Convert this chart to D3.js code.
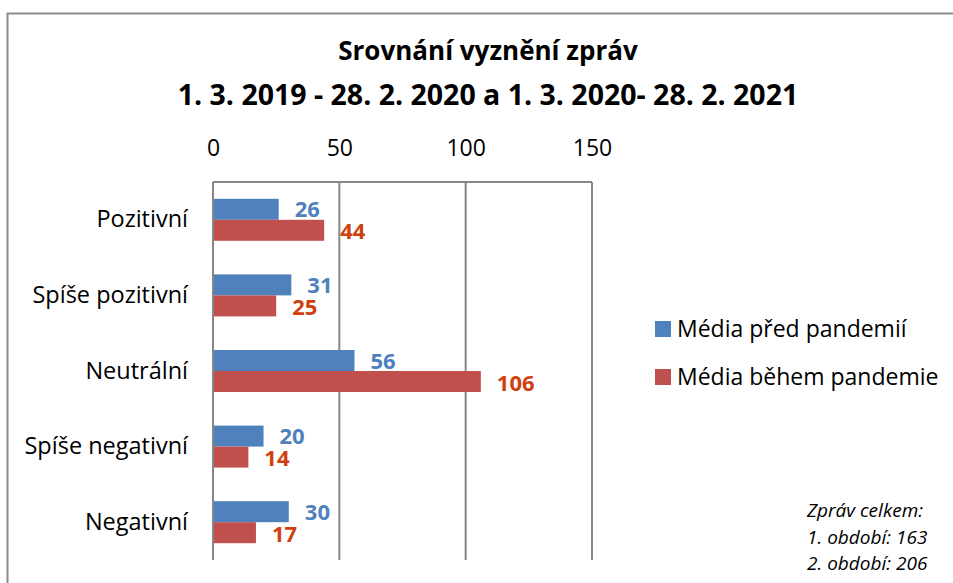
<!DOCTYPE html>
<html>
<head>
    <meta charset="utf-8">
    <title>Srovnání vyznění zpráv</title>
    <script src="https://cdnjs.cloudflare.com/ajax/libs/d3/7.8.5/d3.min.js"></script>
    <style>
    body{ margin:0; background:#fff; }
    svg text{ font-family: "Open Sans", sans-serif; }
    </style>
</head>
<body>
    <svg width="953" height="583"></svg>
    <script>
        var categories = ["Pozitivní", "Spíše pozitivní", "Neutrální", "Spíše negativní", "Negativní"];
        var seriesNames = ["Média před pandemií", "Média během pandemie"];
        var beforeValues = [26, 31, 56, 20, 30];
        var duringValues = [44, 25, 106, 14, 17];
        var xTicks = [0, 50, 100, 150];
        var titleLines = ["Srovnání vyznění zpráv", "1. 3. 2019 - 28. 2. 2020 a 1. 3. 2020- 28. 2. 2021"];
        var noteLines = ["Zpráv celkem:", "1. období: 163", "2. období: 206"];

        var barColors = ["#4f81bd", "#c0504d"];
        var labelColors = ["#4f81bd", "#d0400f"];
        var ff = '"Open Sans", sans-serif';

        var svg = d3.select("svg");

        // outer frame (only top and left visible)
        svg.append("path")
            .attr("d", "M7.5,583 V13.5 H953")
            .attr("fill", "none")
            .attr("stroke", "#8c8c8c")
            .attr("stroke-width", 2);

        // title
        svg.selectAll("text.title")
            .data(titleLines)
            .enter()
            .append("text")
            .attr("class", "title")
            .attr("x", 488)
            .attr("y", function(d, i){ return 60 + i*45; })
            .attr("text-anchor", "middle")
            .attr("font-size", function(d, i){ return i ? 28.5 : 26; })
            .attr("font-weight", "bold")
            .attr("fill", "#000")
            .text(function(d){ return d; });

        var x = d3.scaleLinear().domain([0, 150]).range([213, 592]);
        var y = d3.scaleBand().domain(categories).range([182, 560]);

        // grid
        svg.selectAll("line.grid")
            .data(xTicks)
            .enter()
            .append("line")
            .attr("class", "grid")
            .attr("x1", function(d){ return x(d); })
            .attr("x2", function(d){ return x(d); })
            .attr("y1", 182)
            .attr("y2", 560)
            .attr("stroke", "#868686")
            .attr("stroke-width", 2);
        svg.append("line")
            .attr("x1", x(0)).attr("x2", x(150))
            .attr("y1", 182).attr("y2", 182)
            .attr("stroke", "#868686")
            .attr("stroke-width", 2);

        // top axis labels
        var xAxis = d3.axisTop(x).tickValues(xTicks).tickSize(0).tickPadding(0);
        var ax = svg.append("g").attr("transform", "translate(0,156)").call(xAxis);
        ax.select(".domain").remove();
        ax.selectAll("text")
            .attr("font-size", 23)
            .attr("font-family", ff)
            .attr("fill", "#000");

        // category labels
        var yAxis = d3.axisLeft(y).tickSize(0).tickPadding(0);
        var ay = svg.append("g").attr("transform", "translate(188,0)").call(yAxis);
        ay.select(".domain").remove();
        ay.selectAll("text")
            .attr("font-size", 23.5)
            .attr("font-family", ff)
            .attr("fill", "#000");

        var rows = categories.map(function(c, i){
            return {cat: c, vals: [beforeValues[i], duringValues[i]]};
        });
        var barH = 21;

        var row = svg.selectAll("g.row")
            .data(rows)
            .enter()
            .append("g")
            .attr("class", "row")
            .attr("transform", function(d){
                return "translate(0," + (y(d.cat) + y.bandwidth()/2 - barH) + ")";
            });

        row.selectAll("rect.bar")
            .data(function(d){ return d.vals; })
            .enter()
            .append("rect")
            .attr("class", "bar")
            .attr("x", x(0) + 1)
            .attr("y", function(d, i){ return i*barH; })
            .attr("width", function(d){ return x(d) - x(0) - 1; })
            .attr("height", barH)
            .attr("fill", function(d, i){ return barColors[i]; });

        row.selectAll("text.val")
            .data(function(d){ return d.vals; })
            .enter()
            .append("text")
            .attr("class", "val")
            .attr("x", function(d){ return x(d) + 16; })
            .attr("y", function(d, i){ return i*barH + barH/2 + 8 + i; })
            .attr("font-size", 22)
            .attr("font-weight", "bold")
            .attr("fill", function(d, i){ return labelColors[i]; })
            .text(function(d){ return d; });

        // legend
        var lg = svg.selectAll("g.legend")
            .data(seriesNames)
            .enter()
            .append("g")
            .attr("class", "legend")
            .attr("transform", function(d, i){ return "translate(655," + (321 + i*48) + ")"; });
        lg.append("rect")
            .attr("width", 16).attr("height", 16)
            .attr("fill", function(d, i){ return barColors[i]; });
        lg.append("text")
            .attr("x", 22).attr("y", 16)
            .attr("font-size", 23)
            .attr("fill", "#000")
            .text(function(d){ return d; });

        // note
        svg.selectAll("text.note")
            .data(noteLines)
            .enter()
            .append("text")
            .attr("class", "note")
            .attr("x", 807)
            .attr("y", function(d, i){ return 517 + i*26.5; })
            .attr("font-size", 19)
            .attr("font-style", "italic")
            .attr("fill", "#000")
            .text(function(d){ return d; });
    </script>
</body>
</html>
